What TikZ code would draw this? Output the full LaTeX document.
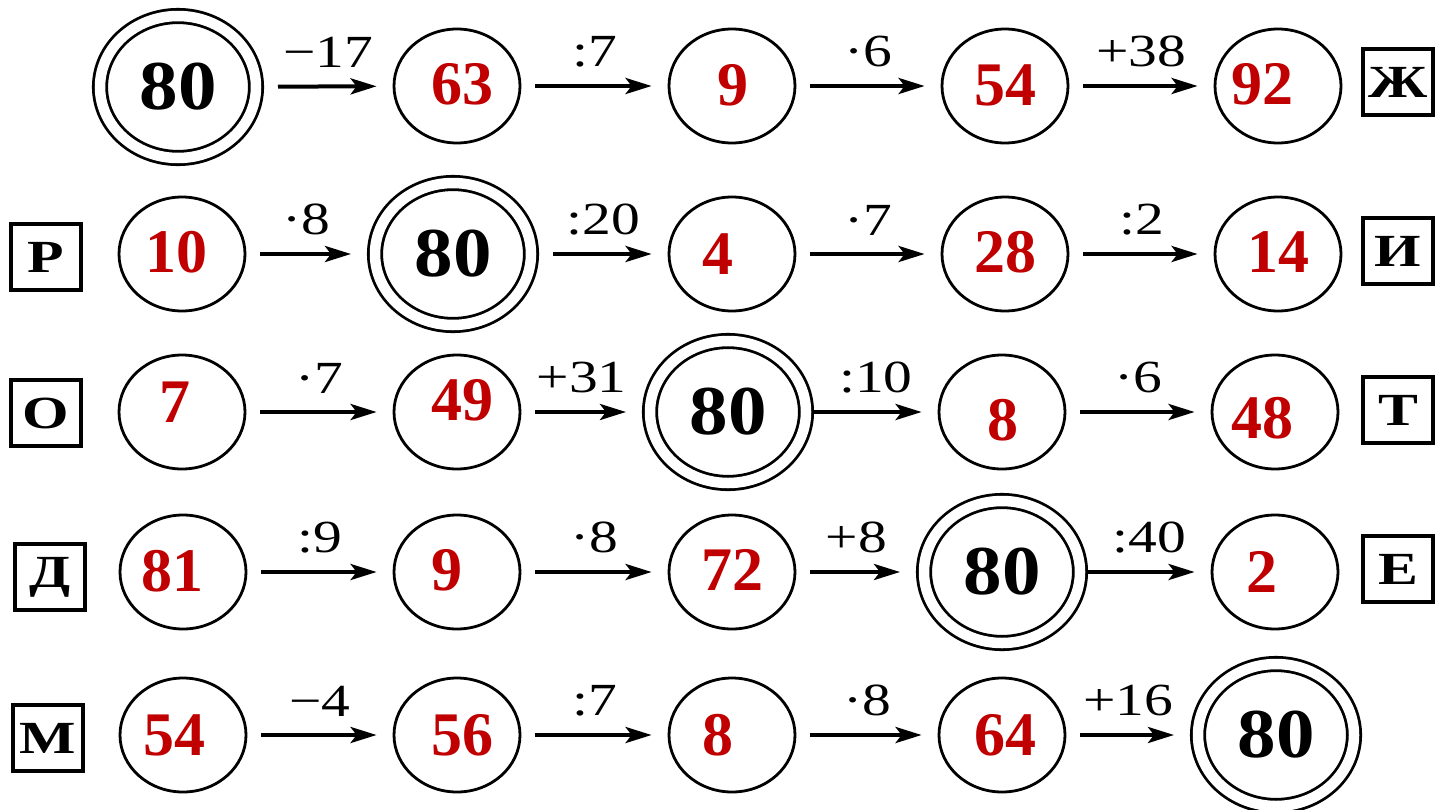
\documentclass[tikz,border=0pt]{standalone}
\usepackage{fontspec}
\usepackage{graphicx}
\setmainfont{Liberation Serif}
\usetikzlibrary{shapes.geometric,arrows.meta}
\definecolor{numred}{RGB}{192,0,0}
\newcommand{\wide}[2]{\scalebox{#1}[1]{#2}}
\begin{document}
\begin{tikzpicture}[x=1pt,y=-1pt,
  sc/.style={ellipse,draw,line width=2.8pt,minimum width=126pt,minimum height=114pt,inner sep=0pt},
  dc/.style={ellipse,draw,line width=2.8pt,double,double distance=10.5pt,minimum width=156pt,minimum height=142pt,inner sep=0pt,outer sep=8pt,font=\bfseries\fontsize{70}{70}\selectfont},
  rn/.style={text=numred,font=\bfseries\fontsize{62}{62}\selectfont,inner sep=0pt},
  bx/.style={draw,line width=3.5pt,minimum width=70pt,minimum height=66pt,inner sep=0pt,font=\bfseries\fontsize{46}{46}\selectfont},
  ar/.style={line width=4pt,-{Stealth[length=26pt,width=16pt,inset=6pt]},shorten <=14pt,shorten >=16pt},
  lab/.style={font=\fontsize{46}{46}\selectfont,inner sep=0pt}
]
\useasboundingbox (0,0) rectangle (1437,809);
\fill[white] (0,0) rectangle (1437,809);

% Row 1
\node[dc] (a1) at (178,87) {\wide{1.1}{80}};
\node[sc] (a2) at (457,86) {};
\node[sc] (a3) at (732,86) {};
\node[sc] (a4) at (1005,86) {};
\node[sc] (a5) at (1278,86) {};
\node[bx] (la) at (1398,82) {\wide{1.3}{Ж}};
\node[rn] (ta2) at (462,84) {63};
\node[rn] (ta3) at (733,85) {9};
\node[rn] (ta4) at (1005,85) {54};
\node[rn] (ta5) at (1262,84) {92};
\draw[ar] (a1) -- node[lab,above=17pt] {\wide{1.25}{−17}} (a2);
\draw[ar] (a2) -- node[lab,above=17pt] {\wide{1.25}{:7}} (a3);
\draw[ar] (a3) -- node[lab,above=17pt] {\wide{1.25}{·6}} (a4);
\draw[ar] (a4) -- node[lab,above=17pt] {\wide{1.25}{+38}} (a5);

% Row 2
\node[bx] (lb) at (46,257) {\wide{1.3}{Р}};
\node[sc] (b1) at (182,254) {};
\node[dc] (b2) at (453,254) {\wide{1.1}{80}};
\node[sc] (b3) at (732,254) {};
\node[sc] (b4) at (1005,254) {};
\node[sc] (b5) at (1278,254) {};
\node[bx] (lb2) at (1398,251) {\wide{1.3}{И}};
\node[rn] (tb1) at (176,252) {10};
\node[rn] (tb3) at (718,254) {4};
\node[rn] (tb4) at (1005,252) {28};
\node[rn] (tb5) at (1278,252) {14};
\draw[ar] (b1) -- node[lab,above=17pt] {\wide{1.25}{·8}} (b2);
\draw[ar] (b2) -- node[lab,above=17pt] {\wide{1.25}{:20}} (b3);
\draw[ar] (b3) -- node[lab,above=17pt] {\wide{1.25}{·7}} (b4);
\draw[ar] (b4) -- node[lab,above=17pt] {\wide{1.25}{:2}} (b5);

% Row 3
\node[bx] (lc) at (46,413) {\wide{1.3}{О}};
\node[sc] (c1) at (182,412) {};
\node[sc] (c2) at (457,412) {};
\node[dc] (c3) at (728,412) {\wide{1.1}{80}};
\node[sc] (c4) at (1002,412) {};
\node[sc] (c5) at (1275,412) {};
\node[bx] (lc2) at (1398,410) {\wide{1.3}{Т}};
\node[rn] (tc1) at (175,402) {7};
\node[rn] (tc2) at (462,400) {49};
\node[rn] (tc4) at (1003,420) {8};
\node[rn] (tc5) at (1262,418) {48};
\draw[ar] (c1) -- node[lab,above=17pt] {\wide{1.25}{·7}} (c2);
\draw[ar] (c2) -- node[lab,above=17pt] {\wide{1.25}{+31}} (c3);
\draw[ar,shorten <=0pt] (c3) -- node[lab,above=17pt] {\wide{1.25}{:10}} (c4);
\draw[ar] (c4) -- node[lab,above=17pt] {\wide{1.25}{·6}} (c5);

% Row 4
\node[bx] (ld) at (50,577) {\wide{1.3}{Д}};
\node[sc] (d1) at (183,572) {};
\node[sc] (d2) at (457,572) {};
\node[sc] (d3) at (732,572) {};
\node[dc] (d4) at (1002,572) {\wide{1.1}{80}};
\node[sc] (d5) at (1275,572) {};
\node[bx] (ld2) at (1398,569) {\wide{1.3}{Е}};
\node[rn] (td1) at (172,571) {81};
\node[rn] (td2) at (447,570) {9};
\node[rn] (td3) at (732,570) {72};
\node[rn] (td5) at (1262,572) {2};
\draw[ar] (d1) -- node[lab,above=17pt] {\wide{1.25}{:9}} (d2);
\draw[ar] (d2) -- node[lab,above=17pt] {\wide{1.25}{·8}} (d3);
\draw[ar] (d3) -- node[lab,above=17pt] {\wide{1.25}{+8}} (d4);
\draw[ar,shorten <=0pt] (d4) -- node[lab,above=17pt] {\wide{1.25}{:40}} (d5);

% Row 5
\node[bx] (le) at (48,738) {\wide{1.3}{М}};
\node[sc] (e1) at (183,735) {};
\node[sc] (e2) at (457,735) {};
\node[sc] (e3) at (732,735) {};
\node[sc] (e4) at (1002,735) {};
\node[dc] (e5) at (1276,735) {\wide{1.1}{80}};
\node[rn] (te1) at (174,735) {54};
\node[rn] (te2) at (462,735) {56};
\node[rn] (te3) at (718,735) {8};
\node[rn] (te4) at (1005,735) {64};
\draw[ar] (e1) -- node[lab,above=17pt] {\wide{1.25}{−4}} (e2);
\draw[ar] (e2) -- node[lab,above=17pt] {\wide{1.25}{:7}} (e3);
\draw[ar] (e3) -- node[lab,above=17pt] {\wide{1.25}{·8}} (e4);
\draw[ar] (e4) -- node[lab,above=17pt] {\wide{1.25}{+16}} (e5);
\end{tikzpicture}
\end{document}
